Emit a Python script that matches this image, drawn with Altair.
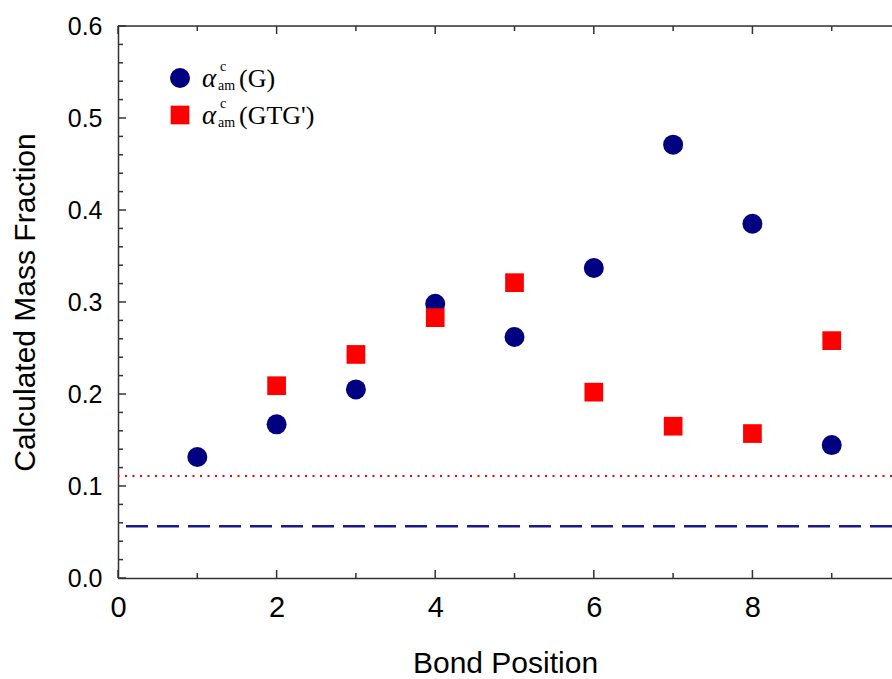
import altair as alt
import pandas as pd

# ---- data ----
bond_g = [1, 2, 3, 4, 5, 6, 7, 8, 9]
alpha_g = [0.1315, 0.167, 0.205, 0.298, 0.262, 0.337, 0.471, 0.385, 0.1445]
bond_gtg = [2, 3, 4, 5, 6, 7, 8, 9]
alpha_gtg = [0.209, 0.243, 0.283, 0.321, 0.202, 0.165, 0.157, 0.258]
ref_gtg = [0.111]
ref_g = [0.0562]

x_major = [0, 2, 4, 6, 8]
x_minor = [1, 3, 5, 7, 9]
y_major = [0.0, 0.1, 0.2, 0.3, 0.4, 0.5, 0.6]
y_minor = [0.02, 0.04, 0.06, 0.08, 0.12, 0.14, 0.16, 0.18, 0.22, 0.24, 0.26, 0.28,
           0.32, 0.34, 0.36, 0.38, 0.42, 0.44, 0.46, 0.48, 0.52, 0.54, 0.56, 0.58]

legend_greek = "α"
legend_sup = "c"
legend_sub = "am"
legend_args = ["(G)", "(GTG')"]

W, H = 774, 552
NAVY = "#000080"
RED = "#ff0000"
AX = "#333333"
SANS = "Liberation Sans"
SERIF = "Liberation Serif"

xs = alt.Scale(domain=[0, 9.76], nice=False, zero=False)
ys = alt.Scale(domain=[0, 0.6], nice=False, zero=False)

df_g = pd.DataFrame({"x": bond_g, "y": alpha_g})
df_t = pd.DataFrame({"x": bond_gtg, "y": alpha_gtg})

x_axis = alt.Axis(values=x_major, ticks=False, grid=False, format="d",
                  labelFont=SANS, labelFontSize=29, labelColor="black", labelPadding=15,
                  labelFlush=False,
                  title="Bond Position", titleFont=SANS, titleFontSize=30,
                  titleFontWeight="normal", titleColor="black", titlePadding=26,
                  domainColor=AX, domainWidth=1.5)
y_axis = alt.Axis(values=y_major, ticks=False, grid=False, format=".1f",
                  labelFont=SANS, labelFontSize=25, labelColor="black", labelPadding=16,
                  labelFlush=False,
                  title="Calculated Mass Fraction", titleFont=SANS, titleFontSize=30,
                  titleFontWeight="normal", titleColor="black", titlePadding=27,
                  domainColor=AX, domainWidth=1.5)


def X(field="x"):
    return alt.X(f"{field}:Q", scale=xs, axis=x_axis, title="Bond Position")


def Y(field="y"):
    return alt.Y(f"{field}:Q", scale=ys, axis=y_axis, title="Calculated Mass Fraction")


circles = alt.Chart(df_g).mark_point(shape="circle", filled=True, size=400, opacity=1,
                                      color=NAVY).encode(x=X(), y=Y())
squares = alt.Chart(df_t).mark_point(shape="square", filled=True, size=350, opacity=1,
                                      color=RED).encode(x=X(), y=Y())

dotted = alt.Chart(pd.DataFrame({"y": ref_gtg})).mark_rule(
    color=RED, strokeWidth=2, strokeDash=[2, 5.5]).encode(y=Y())
dashed = alt.Chart(pd.DataFrame({"y": ref_g})).mark_rule(
    color="#1a1a8c", strokeWidth=2.5, strokeDash=[22, 9]).encode(y=Y())

top_border = alt.Chart(pd.DataFrame({"x": [0]})).mark_rule(color=AX, strokeWidth=1.5).encode(
    x=alt.value(0), x2=alt.value(W), y=alt.value(0))


def xticks(vals, length, top):
    d = pd.DataFrame({"x": vals})
    if top:
        return alt.Chart(d).mark_rule(color=AX, strokeWidth=1.5).encode(
            x=X(), y=alt.value(0), y2=alt.value(length))
    return alt.Chart(d).mark_rule(color=AX, strokeWidth=1.5).encode(
        x=X(), y=alt.value(H), y2=alt.value(H - length))


def yticks(vals, length):
    d = pd.DataFrame({"y": vals})
    return alt.Chart(d).mark_rule(color=AX, strokeWidth=1.5).encode(
        y=Y(), x=alt.value(0), x2=alt.value(length))


tick_layers = [
    xticks(x_major, 8, False), xticks(x_minor, 5, False),
    xticks(x_major, 8, True), xticks(x_minor, 5, True),
    yticks(y_major, 8), yticks(y_minor, 5),
]

# ---- legend ----
one = pd.DataFrame({"k": [0]})
legend_layers = []
rows = [(52, "circle", NAVY, 400), (89, "square", RED, 350)]
for (ry, shape, col, sz), arg in zip(rows, legend_args):
    legend_layers.append(alt.Chart(one).mark_point(shape=shape, filled=True, size=sz,
                                                    opacity=1, color=col).encode(
        x=alt.value(62), y=alt.value(ry)))
    legend_layers.append(alt.Chart(one).mark_text(
        text=legend_greek, font=SERIF, fontStyle="italic", fontSize=27, align="left",
        baseline="middle", color="black").encode(x=alt.value(84), y=alt.value(ry + 1)))
    legend_layers.append(alt.Chart(one).mark_text(
        text=legend_sup, font=SERIF, fontSize=14, align="left",
        baseline="middle", color="black").encode(x=alt.value(102), y=alt.value(ry - 11)))
    legend_layers.append(alt.Chart(one).mark_text(
        text=legend_sub, font=SERIF, fontSize=14, align="left",
        baseline="middle", color="black").encode(x=alt.value(100), y=alt.value(ry + 8)))
    legend_layers.append(alt.Chart(one).mark_text(
        text=arg, font=SERIF, fontSize=26, align="left",
        baseline="middle", color="black").encode(x=alt.value(121), y=alt.value(ry + 1)))

chart = alt.layer(
    dashed, dotted, top_border, *tick_layers, circles, squares, *legend_layers
).properties(
    width=W, height=H,
    autosize=alt.AutoSizeParams(type="none"),
    padding={"left": 118, "top": 26, "right": 0, "bottom": 101},
).configure_view(stroke=None).configure(background="white")

chart.save("out.html", embed_options={"renderer": "svg", "actions": False})
